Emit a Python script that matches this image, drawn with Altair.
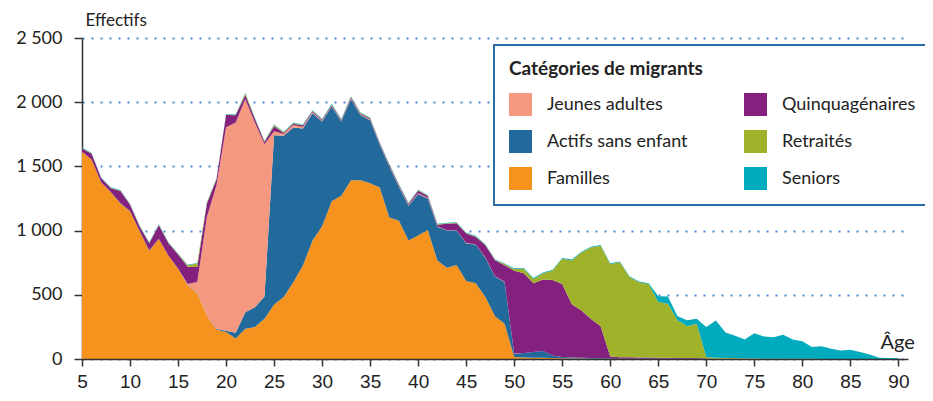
import altair as alt
import pandas as pd

ages = list(range(5, 91))

familles = [1614, 1551, 1375, 1298, 1212, 1150, 995, 844, 935, 805,
            702, 572, 513, 339, 228, 210, 160, 236, 249, 313,
            425, 482, 598, 728, 922, 1033, 1228, 1272, 1393, 1393,
            1368, 1336, 1103, 1077, 922, 961, 1005, 767, 710, 733,
            607, 590, 482, 332, 275, 16, 12, 10, 10, 8,
            5, 3, 3, 2, 2, 0, 0, 0, 0, 0,
            0, 0, 0, 0, 0, 0, 0, 0, 0, 0,
            0, 0, 0, 0, 0, 0, 0, 0, 0, 0,
            0, 0, 0, 0, 0, 0]

actifs = [2, 2, 2, 2, 2, 2, 2, 2, 2, 2,
          2, 2, 2, 2, 5, 10, 45, 129, 155, 174,
          1318, 1256, 1205, 1067, 992, 816, 738, 577, 630, 505,
          492, 332, 394, 265, 272, 324, 245, 263, 290, 267,
          293, 301, 305, 310, 323, 25, 35, 44, 52, 20,
          10, 8, 6, 5, 5, 3, 2, 2, 2, 2,
          2, 2, 2, 2, 2, 0, 0, 0, 0, 0,
          0, 0, 0, 0, 0, 0, 0, 0, 0, 0,
          0, 0, 0, 0, 0, 0]

jeunes = [0, 0, 0, 0, 0, 0, 0, 0, 0, 0,
          0, 10, 84, 764, 1121, 1585, 1636, 1658, 1437, 1186,
          30, 15, 20, 12, 8, 6, 5, 5, 5, 5,
          5, 5, 5, 5, 5, 5, 5, 3, 3, 3,
          3, 3, 3, 3, 3, 2, 0, 0, 0, 0,
          0, 0, 0, 0, 0, 0, 0, 0, 0, 0,
          0, 0, 0, 0, 0, 0, 0, 0, 0, 0,
          0, 0, 0, 0, 0, 0, 0, 0, 0, 0,
          0, 0, 0, 0, 0, 0]

quinqua = [24, 45, 30, 30, 95, 50, 35, 56, 105, 95,
           110, 135, 117, 104, 44, 95, 57, 33, 30, 18,
           40, 8, 10, 12, 8, 8, 8, 8, 10, 8,
           8, 8, 8, 8, 10, 20, 15, 13, 50, 55,
           75, 57, 96, 124, 130, 645, 621, 536, 557, 588,
           570, 415, 368, 305, 248, 16, 12, 12, 10, 10,
           8, 8, 6, 5, 5, 3, 2, 2, 2, 2,
           2, 0, 0, 0, 0, 0, 0, 0, 0, 0,
           0, 0, 0, 0, 0, 0]

retraites = [3, 3, 3, 3, 3, 3, 3, 3, 3, 3,
             3, 12, 28, 8, 5, 5, 5, 12, 5, 5,
             10, 5, 5, 4, 4, 4, 4, 4, 4, 4,
             4, 4, 4, 4, 4, 4, 4, 4, 4, 4,
             4, 4, 4, 4, 8, 12, 34, 34, 49, 73,
             195, 342, 453, 557, 627, 720, 739, 625, 585, 572,
             433, 420, 293, 248, 268, 12, 8, 5, 5, 3,
             3, 2, 2, 2, 2, 2, 2, 0, 0, 0,
             0, 0, 0, 0, 0, 0]

seniors = [4, 4, 4, 4, 4, 4, 4, 4, 4, 4,
           4, 4, 4, 4, 4, 4, 4, 4, 4, 4,
           4, 4, 4, 4, 4, 4, 4, 4, 4, 4,
           4, 4, 4, 4, 4, 4, 4, 4, 4, 4,
           4, 4, 4, 4, 4, 6, 6, 6, 6, 6,
           6, 6, 6, 6, 6, 6, 6, 6, 6, 6,
           45, 56, 31, 46, 39, 235, 290, 200, 175, 147,
           196, 173, 168, 186, 150, 136, 92, 99, 79, 67,
           72, 54, 36, 10, 8, 5]

categories = ["Familles", "Actifs sans enfant", "Jeunes adultes",
              "Quinquagénaires", "Retraités", "Seniors"]
series = [familles, actifs, jeunes, quinqua, retraites, seniors]
palette = {
    "Familles": "#F6931E",
    "Actifs sans enfant": "#226A9C",
    "Jeunes adultes": "#F59880",
    "Quinquagénaires": "#84207E",
    "Retraités": "#A0B22A",
    "Seniors": "#00ABBE",
}
legend_order = ["Jeunes adultes", "Actifs sans enfant", "Familles",
                "Quinquagénaires", "Retraités", "Seniors"]
y_ticks = [0, 500, 1000, 1500, 2000, 2500]
x_ticks = list(range(5, 91, 5))

rows = []
for k, (cat, vals) in enumerate(zip(categories, series)):
    for a, v in zip(ages, vals):
        rows.append({"age": a, "effectif": v, "categorie": cat, "ordre": k})
df = pd.DataFrame(rows)

chart = alt.Chart(df).mark_area(interpolate="linear").encode(
    x=alt.X("age:Q",
            scale=alt.Scale(domain=[5, 91], nice=False, zero=False),
            axis=alt.Axis(values=x_ticks, title="Âge", grid=False,
                          labelFont="Liberation Sans", labelFontSize=19,
                          labelColor="#222222", labelPadding=6,
                          tickSize=7, tickColor="#333333", tickWidth=1.5,
                          domainColor="#333333", domainWidth=1.5,
                          titleFont="Lato", titleFontSize=20,
                          titleFontWeight="normal", titleColor="#222222",
                          titleAlign="left", titleBaseline="alphabetic",
                          titleX=798, titleY=-11, labelFlush=False,
                          zindex=1)),
    y=alt.Y("effectif:Q", stack="zero",
            scale=alt.Scale(domain=[0, 2500], nice=False),
            axis=alt.Axis(values=y_ticks, title="Effectifs",
                          labelExpr="replace(format(datum.value, ','), ',', ' ')",
                          labelFont="Lato", labelFontSize=18,
                          labelColor="#222222", labelPadding=12,
                          tickSize=8, tickColor="#333333", tickWidth=1.5,
                          domainColor="#333333", domainWidth=1.5,
                          grid=True, gridColor="#4F86D4", gridWidth=2,
                          gridDash=[2, 7],
                          titleFont="Lato", titleFontSize=17,
                          titleFontWeight="normal", titleColor="#222222",
                          titleAngle=0, titleAlign="left",
                          titleBaseline="alphabetic", titleX=3, titleY=-13)),
    color=alt.Color("categorie:N",
                    scale=alt.Scale(domain=legend_order,
                                    range=[palette[c] for c in legend_order]),
                    legend=alt.Legend(title="Catégories de migrants",
                                      orient="none", legendX=412, legendY=7,
                                      columns=2, columnPadding=56,
                                      rowPadding=14, padding=15,
                                      strokeColor="#2B6CA3", fillColor="white",
                                      symbolType="square", symbolSize=529,
                                      symbolStrokeWidth=0, symbolOpacity=1,
                                      labelFont="Lato", labelFontSize=18,
                                      labelColor="#222222", labelOffset=15,
                                      labelLimit=300,
                                      titleFont="Lato", titleFontSize=19,
                                      titleFontWeight="bold", titleLimit=400,
                                      titleColor="#222222", titlePadding=14)),
    order=alt.Order("ordre:Q"),
).properties(
    width=826, height=321,
    padding={"left": 74, "top": 30, "right": 17, "bottom": 34},
    autosize=alt.AutoSizeParams(type="none"),
).configure_view(stroke=None).configure_legend(strokeWidth=2)

chart.save("out.html", embed_options={"renderer": "svg", "actions": False})
